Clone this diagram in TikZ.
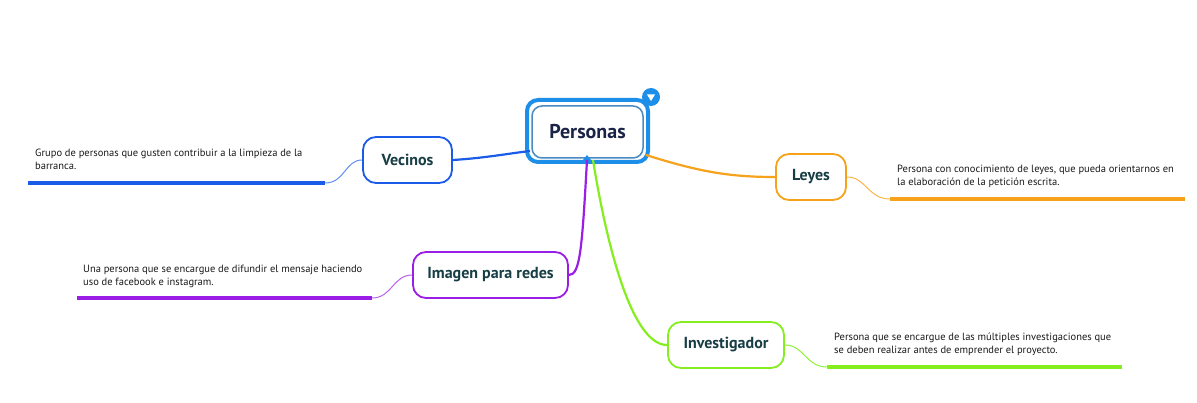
\documentclass[tikz,border=0pt]{standalone}
\usepackage{fontspec}
\setmainfont{PT Sans}
\usetikzlibrary{calc}
\definecolor{cblue}{HTML}{1A5CE8}
\definecolor{corange}{HTML}{F7A21B}
\definecolor{cpurple}{HTML}{9A1EE6}
\definecolor{cgreen}{HTML}{84EE1E}
\definecolor{ccentral}{HTML}{1E8FE8}
\definecolor{cinner}{HTML}{4A8AC0}
\definecolor{clabel}{HTML}{173D45}
\definecolor{cnavy}{HTML}{1A2446}
\tikzset{
  topic/.style={draw, rounded corners=13pt, line width=1.8pt, fill=white,
    minimum height=46pt, inner sep=0pt, font=\fontsize{16}{18}\selectfont\bfseries, text=clabel},
  desc/.style={anchor=north west, align=left, inner sep=0pt,
    font=\fontsize{10.5}{13}\selectfont, text=black!90},
  underline/.style={line width=3.5pt},
  twig/.style={line width=1pt},
  branch/.style={line width=2.2pt},
}
\begin{document}
\begin{tikzpicture}[x=1pt,y=-1pt]
\useasboundingbox (0,0) rectangle (1197,403);
% central node
\node[draw=ccentral, line width=4pt, rounded corners=11pt, minimum width=121pt, minimum height=62pt, inner sep=0pt] (central) at (587.5,131) {};
\node[draw=cinner, line width=1.5pt, rounded corners=10pt, minimum width=111pt, minimum height=52pt, fill=white, inner sep=0pt,
  font=\fontsize{20}{24}\selectfont\bfseries, text=cnavy] (personas) at (587.5,132) {Personas};
\node[circle, fill=ccentral, minimum size=18pt, inner sep=0pt] (toggle) at (651,97) {};
\fill[white] ($(toggle.center)+(-4,-2.5)$) -- ($(toggle.center)+(4,-2.5)$) -- ($(toggle.center)+(0,4)$) -- cycle;
\coordinate (cb1) at (530,151);
\coordinate (cb2) at (646,155);
\coordinate (cb3) at (587,160);
\coordinate (cb4) at (593,160);
\fill[ccentral] (cb3) ++(-4,0) -- ++(4,-5) -- ++(4,5) -- cycle;

% topic nodes
\node[topic, draw=cblue, minimum width=89pt] (vecinos) at (407.5,160) {Vecinos};
\node[topic, draw=corange, minimum width=70pt] (leyes) at (811,177) {Leyes};
\node[topic, draw=cpurple, minimum width=155pt] (imagen) at (490.5,275) {Imagen para redes};
\node[topic, draw=cgreen, minimum width=116pt] (invest) at (726,345) {Investigador};

% branches from central
\draw[branch, cblue] (vecinos.east) .. controls (485,158) and (505,154) .. (cb1);
\draw[branch, corange] (cb2) .. controls (700,172) and (730,177) .. (leyes.west);
\draw[branch, cpurple] (cb3) .. controls (582,250) and (580,275) .. (imagen.east);
\draw[branch, cgreen] (cb4) .. controls (605,235) and (630,345) .. (invest.west);

% underline coordinates
\coordinate (v1) at (325,183); \coordinate (v2) at (28,183);
\coordinate (l1) at (890,199); \coordinate (l2) at (1185,199);
\coordinate (i1) at (372,298); \coordinate (i2) at (77,298);
\coordinate (g1) at (827,367); \coordinate (g2) at (1122,367);

% twigs
\draw[twig, cblue!70] (vecinos.west) .. controls (345,160) and (345,183) .. (v1);
\draw[twig, corange!80] (leyes.east) .. controls (866,177) and (868,199) .. (l1);
\draw[twig, cpurple!70] (imagen.west) .. controls (393,275) and (392,298) .. (i1);
\draw[twig, cgreen!90] (invest.east) .. controls (804,345) and (806,367) .. (g1);

% underlines
\draw[underline, cblue] (v1) -- (v2);
\draw[underline, corange] (l1) -- (l2);
\draw[underline, cpurple] (i1) -- (i2);
\draw[underline, cgreen] (g1) -- (g2);

% descriptions
\node[desc] (dv) at (35,148.5) {Grupo de personas que gusten contribuir a la limpieza de la\\barranca.};
\node[desc] (dl) at (897,164.5) {Persona con conocimiento de leyes, que pueda orientarnos en\\la elaboración de la petición escrita.};
\node[desc] (di) at (83,264.5) {Una persona que se encargue de difundir el mensaje haciendo\\uso de facebook e instagram.};
\node[desc] (dg) at (834,332.5) {Persona que se encargue de las múltiples investigaciones que\\se deben realizar antes de emprender el proyecto.};
\end{tikzpicture}
\end{document}
